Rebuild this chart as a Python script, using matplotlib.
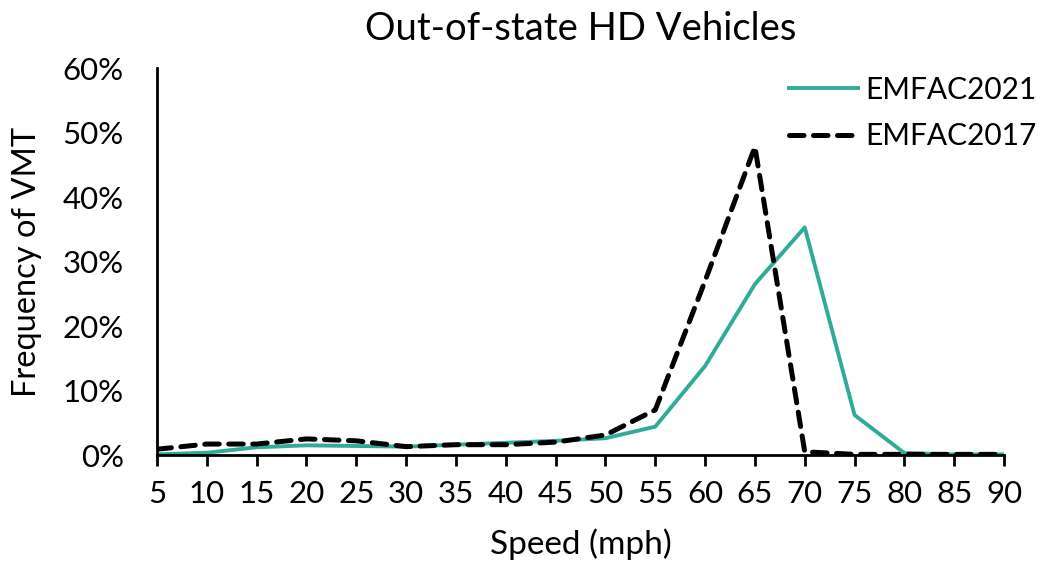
import matplotlib
matplotlib.use("Agg")
import matplotlib.pyplot as plt
from matplotlib.ticker import PercentFormatter

plt.rcParams["font.family"] = ["Lato", "DejaVu Sans"]

speeds = [5, 10, 15, 20, 25, 30, 35, 40, 45, 50, 55, 60, 65, 70, 75, 80, 85, 90]
emfac2021 = [0.1, 0.35, 1.2, 1.5, 1.4, 1.3, 1.6, 1.9, 2.2, 2.6, 4.4, 13.8, 26.5, 35.3,
             6.2, 0.3, 0.1, 0.1]
emfac2017 = [0.9, 1.7, 1.7, 2.5, 2.2, 1.3, 1.6, 1.6, 2.0, 3.1, 7.0, 27.0, 47.8, 0.5,
             0.1, 0.1, 0.1, 0.1]

fig = plt.figure(figsize=(10.55, 5.63), dpi=100)
ax = fig.add_axes([0.1488, 0.1918, 0.8029, 0.6872])

ax.plot(speeds, emfac2021, color="#2fab98", linewidth=2.8, label="EMFAC2021")
ax.plot(speeds, emfac2017, color="black", linewidth=3.6, linestyle=(0, (2.9, 1.9)),
        dash_capstyle="round", label="EMFAC2017")

ax.set_xlim(5, 90)
ax.set_ylim(0, 60)
ax.set_xticks(speeds)
ax.set_yticks(range(0, 61, 10))
ax.yaxis.set_major_formatter(PercentFormatter(decimals=0))
ax.tick_params(axis="y", length=0, pad=24, labelsize=22.5)
ax.tick_params(axis="x", length=8, width=2, direction="out", pad=10, labelsize=22.5)

for side in ("top", "right"):
    ax.spines[side].set_visible(False)
for side in ("left", "bottom"):
    ax.spines[side].set_linewidth(2)

ax.set_xlabel("Speed (mph)", fontsize=24, labelpad=15)
ax.set_ylabel("Frequency of VMT", fontsize=23.5, labelpad=15)
ax.set_title("Out-of-state HD Vehicles", fontsize=27.5, pad=20)

leg = ax.legend(loc="upper right", bbox_to_anchor=(1.07, 1.05), frameon=False,
                fontsize=21.5, handlelength=2.3, handletextpad=0.25, labelspacing=0.62)

fig.savefig("out.png", dpi=100)
